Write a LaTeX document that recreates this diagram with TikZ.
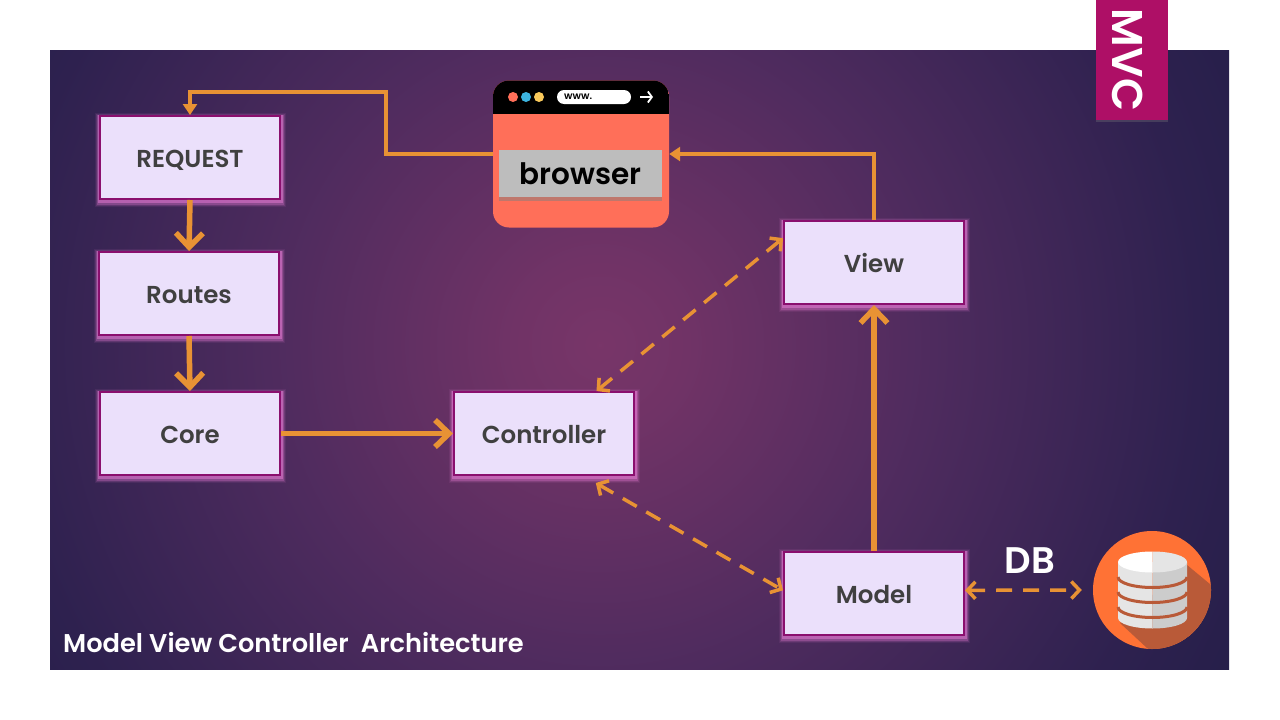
\documentclass[tikz,border=0pt]{standalone}
\usepackage{fontspec}
\setmainfont{Poppins}[BoldFont={Poppins SemiBold}]
\usetikzlibrary{arrows.meta,shadows}
\definecolor{boxfill}{HTML}{EBE0FB}
\definecolor{boxline}{HTML}{8A0F6E}
\definecolor{glowpink}{HTML}{F07FDC}
\definecolor{boxtext}{HTML}{404040}
\definecolor{arrowcol}{HTML}{E89234}
\definecolor{tabcol}{HTML}{AE0F66}
\definecolor{salmon}{HTML}{FF6F59}
\definecolor{dotblue}{HTML}{3CB4E0}
\definecolor{dotyellow}{HTML}{F9C95B}
\definecolor{dborange}{HTML}{FF7235}
\definecolor{dbrust}{HTML}{B95A38}
\pgfdeclareradialshading{bgglow}{\pgfpoint{0bp}{0bp}}{%
	rgb(0bp)=(0.47,0.21,0.41);
	rgb(3.3bp)=(0.44,0.20,0.40);
	rgb(12.5bp)=(0.31,0.17,0.37);
	rgb(23bp)=(0.18,0.13,0.31);
	rgb(27.2bp)=(0.15,0.12,0.29);
	rgb(50bp)=(0.15,0.12,0.29)}
\tikzset{
	mvcbox/.style={draw=boxline, fill=boxfill, line width=2pt, minimum width=180pt, minimum height=83pt, inner sep=0pt,
		text=boxtext, font=\fontsize{24.5}{30}\selectfont\bfseries, text height=25pt, text depth=5pt,
		preaction={draw=glowpink, line width=11pt, opacity=.08, transform canvas={yshift=-2.5pt}},
		preaction={draw=glowpink, line width=9pt, opacity=.14, transform canvas={yshift=-2.5pt}},
		preaction={draw=glowpink, line width=7pt, opacity=.25, transform canvas={yshift=-2pt}},
		preaction={draw=glowpink, line width=5pt, opacity=.45, transform canvas={yshift=-1.5pt}}},
	mainflow/.style={draw=arrowcol, line width=5.5pt, -{Straight Barb[length=14pt,width=27pt,line width=5.5pt]}},
	thinflow/.style={draw=arrowcol, line width=3.5pt, -{Triangle[length=11pt,width=14pt]}},
	dashflow/.style={draw=arrowcol, line width=3.5pt, dash pattern=on 16pt off 11pt, {Straight Barb[length=8pt,width=17pt,line width=3.5pt]}-{Straight Barb[length=8pt,width=17pt,line width=3.5pt]}}
}
\begin{document}
\begin{tikzpicture}[x=1pt,y=-1pt]
	\useasboundingbox (0,0) rectangle (1280,720);
	\fill[white] (0,0) rectangle (1280,720);
	\begin{scope}
		\clip (50,50) rectangle (1229,669);
		\shade[shading=bgglow] (-50,-305) rectangle (1250,995);
	\end{scope}

	% tab
	\node[fill=tabcol, minimum width=72pt, minimum height=120pt, inner sep=0pt, drop shadow={shadow xshift=0pt,shadow yshift=-2pt,opacity=.3}] (mvctab) at (1132,60) {};
	\node[rotate=-90, text=white, font=\fontsize{43}{43}\selectfont\bfseries, inner sep=0pt] (mvclabel) at (1128,60) {MVC};

	% boxes
	\node[mvcbox] (request) at (190,157.5) {REQUEST};
	\node[mvcbox] (routes) at (189,293.5) {Routes};
	\node[mvcbox] (core) at (190,433.5) {Core};
	\node[mvcbox] (controller) at (544,433.5) {Controller};
	\node[mvcbox] (view) at (874,262.5) {View};
	\node[mvcbox] (model) at (874,593.5) {Model};

	% browser
	\node[fill=salmon, rounded corners=16pt, minimum width=176pt, minimum height=147pt, inner sep=0pt] (window) at (581,154) {};
	\begin{scope}
		\clip[rounded corners=16pt] (493,80.5) rectangle (669,227.5);
		\fill[black] (493,80) rectangle (669,114);
	\end{scope}
	\fill[salmon] (513,97) circle (5);
	\fill[dotblue] (526,97) circle (5);
	\fill[dotyellow] (539,97) circle (5);
	\node[fill=white, rounded corners=7pt, minimum width=74pt, minimum height=14pt, inner sep=0pt] (urlbar) at (594,97) {};
	\node[font=\fontsize{10}{10}\selectfont\bfseries, inner sep=0pt, anchor=west] (urltext) at (564,97) {www.};
	\draw[white, line width=1.8pt, -{Straight Barb[length=4pt,width=11pt,line width=1.8pt]}] (640,97) -- (653,97);
	\node[fill=black!26, minimum width=163pt, minimum height=47pt, inner sep=0pt, font=\fontsize{29.5}{31}\selectfont\bfseries, text=black, drop shadow={shadow xshift=0pt,shadow yshift=-4pt,opacity=.5}] (browser) at (580.5,173.5) {browser};

	% database
	\node[circle, fill=dborange, minimum size=118pt, inner sep=0pt] (dbicon) at (1152,590) {};
	\begin{scope}
		\clip (1152,590) circle (59);
		\fill[dbrust] (1187,565) -- (1240,609) -- (1240,740) -- (1147,648) -- (1120,623) -- cycle;
	\end{scope}
	\fill[black!10] (1118,562) -- (1118,618) arc[x radius=34.5, y radius=10.5, start angle=180, end angle=90] -- (1152.5,562) -- cycle;
	\fill[black!20] (1152.5,562) -- (1152.5,628.5) arc[x radius=34.5, y radius=10.5, start angle=90, end angle=0] -- (1187,562) -- cycle;
	\fill[white] (1152.5,551.5) arc[x radius=34.5, y radius=10.5, start angle=270, end angle=90] -- cycle;
	\fill[black!10] (1152.5,551.5) arc[x radius=34.5, y radius=10.5, start angle=-90, end angle=90] -- cycle;
	\foreach \bandy in {577,592,607}
		\draw[dbrust, line width=3pt] (1118,\bandy) arc[x radius=34.5, y radius=10.5, start angle=180, end angle=0];

	% connectors
	\coordinate (bendtop) at (386,92);
	\draw[mainflow] (request.south) -- (routes.north);
	\draw[mainflow] (routes.south) -- (core.north);
	\draw[mainflow] (core.east) -- (controller.west);
	\draw[mainflow] (model.north) -- (view.south);
	\draw[thinflow] (view.north) |- (window.east);
	\draw[thinflow] (window.west) -| (bendtop) -| (request.north);
	\draw[dashflow] (controller.39) -- (view.165);
	\draw[dashflow, shorten <=14pt] (controller.-47) -- (model.178);
	\draw[dashflow, shorten >=11pt] (model.2) -- (dbicon.west);

	% labels
	\node[text=white, font=\fontsize{37}{37}\selectfont\bfseries, inner sep=0pt] (dblabel) at (1030,561) {DB};
	\node[text=white, font=\fontsize{25.7}{30}\selectfont\bfseries, inner sep=0pt, anchor=west] (caption) at (63,643) {Model View Controller\ \ Architecture};
\end{tikzpicture}
\end{document}
